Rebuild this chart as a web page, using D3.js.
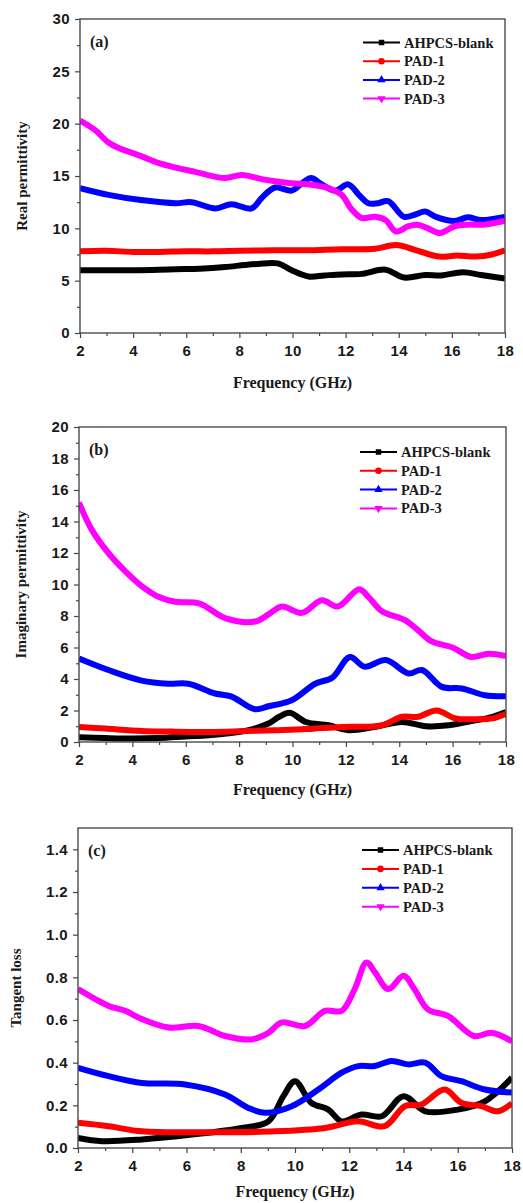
<!doctype html>
<html>
  <head>
    <script src="https://cdnjs.cloudflare.com/ajax/libs/d3/7.8.5/d3.min.js"></script>
    <style>
      body { margin: 0; background: #fff; }
      svg { display: block; }
      .tick text {
        font-family: "Liberation Sans", Arial, sans-serif;
        font-weight: bold;
        font-size: 15px;
        letter-spacing: 0.4px;
        fill: #1a1a1a;
      }
      .tick line { stroke: #444; stroke-width: 1.2px; }
      .domain { stroke: none; }
      .serif {
        font-family: "Liberation Serif", "Times New Roman", serif;
        font-weight: bold;
        fill: #1a1a1a;
      }
    </style>
  </head>
  <body>
    <svg width="523" height="1203"></svg>
    <script>
      // series names / colours
      var seriesNames = ["AHPCS-blank", "PAD-1", "PAD-2", "PAD-3"];
      var seriesColors = ["#000000", "#ff0000", "#0000ff", "#ff00ff"];

      // ticks
      var freqTicks = [2, 4, 6, 8, 10, 12, 14, 16, 18];
      var freqMinor = [3, 5, 7, 9, 11, 13, 15, 17];
      var realTicks = [0, 5, 10, 15, 20, 25, 30];
      var realMinor = [2.5, 7.5, 12.5, 17.5, 22.5, 27.5];
      var imagTicks = [0, 2, 4, 6, 8, 10, 12, 14, 16, 18, 20];
      var imagMinor = [1, 3, 5, 7, 9, 11, 13, 15, 17, 19];
      var tanTicks = [0, 0.2, 0.4, 0.6, 0.8, 1.0, 1.2, 1.4];
      var tanMinor = [0.1, 0.3, 0.5, 0.7, 0.9, 1.1, 1.3];

      // (a) real permittivity  [GHz, value]
      var realBlank = [[2,6.0],[3,6.0],[4,6.0],[5,6.05],[5.6,6.1],[6.5,6.15],[7.46,6.3],[8.2,6.5],[8.7,6.6],[9.45,6.65],[9.97,6.0],[10.6,5.4],[11.2,5.5],[11.85,5.6],[12.6,5.65],[13.5,6.05],[14.2,5.3],[15,5.55],[15.6,5.5],[16.4,5.8],[17.1,5.55],[18,5.2]];
      var realPad1 = [[2,7.8],[3,7.85],[4,7.75],[5,7.75],[6,7.8],[7,7.8],[8,7.85],[9.3,7.9],[10.5,7.9],[11.85,8.0],[13.1,8.05],[13.9,8.4],[14.6,7.95],[15.5,7.3],[16.2,7.4],[16.9,7.3],[17.5,7.5],[18,7.9]];
      var realPad2 = [[2,13.85],[3.07,13.2],[4.3,12.7],[5.6,12.4],[6.2,12.5],[7.1,11.9],[7.7,12.3],[8.46,11.9],[8.84,12.9],[9.34,13.9],[9.97,13.6],[10.3,14.2],[10.7,14.8],[11.1,14.2],[11.6,13.6],[12.1,14.2],[12.5,13.2],[12.85,12.4],[13.2,12.4],[13.6,12.6],[14.2,11.1],[14.6,11.3],[15.0,11.6],[15.4,11.1],[16.1,10.7],[16.6,11.05],[17.1,10.8],[18,11.1]];
      var realPad3 = [[2,20.3],[2.56,19.4],[3.07,18.2],[3.44,17.7],[4.3,16.9],[4.95,16.25],[5.6,15.8],[6.33,15.4],[7.46,14.8],[8.09,15.1],[8.84,14.7],[9.34,14.5],[9.97,14.3],[10.6,14.2],[11.35,13.85],[11.85,13.2],[12.2,11.9],[12.6,11.0],[13.1,11.1],[13.5,10.8],[13.9,9.7],[14.36,10.2],[14.7,10.35],[15.1,10.0],[15.55,9.55],[16.1,10.2],[16.6,10.35],[17.2,10.35],[18,10.7]];

      // (b) imaginary permittivity
      var imagBlank = [[2,0.3],[3,0.25],[4,0.22],[5,0.25],[6,0.35],[6.85,0.43],[7.6,0.55],[8.35,0.75],[9.1,1.17],[9.5,1.6],[9.9,1.85],[10.5,1.27],[11.35,1.06],[12.1,0.75],[13.1,0.96],[14.1,1.27],[15,1.0],[15.85,1.06],[16.85,1.37],[17.5,1.6],[18,1.9]];
      var imagPad1 = [[2,0.96],[3,0.85],[4.35,0.7],[5.5,0.66],[6.85,0.64],[8,0.68],[9.35,0.75],[10.5,0.82],[11.85,0.96],[13.35,1.06],[14.1,1.6],[14.7,1.6],[15.4,2.0],[16.1,1.5],[16.85,1.45],[17.5,1.5],[18,1.8]];
      var imagPad2 = [[2,5.3],[3.1,4.57],[4.35,3.9],[5.35,3.7],[6.1,3.7],[7.1,3.08],[7.7,2.9],[8.6,2.08],[9.1,2.27],[9.97,2.65],[10.85,3.7],[11.5,4.1],[12.15,5.4],[12.7,4.78],[13.5,5.2],[14.35,4.35],[14.85,4.57],[15.6,3.5],[16.35,3.4],[17.2,2.97],[18,2.9]];
      var imagPad3 = [[2,15.2],[2.47,13.5],[3.1,12.0],[3.7,10.9],[4.35,9.9],[5,9.2],[5.6,8.9],[6.5,8.8],[7.5,7.85],[8.6,7.65],[9.1,8.1],[9.6,8.6],[10.35,8.2],[11.1,9.0],[11.7,8.6],[12.5,9.7],[12.85,9.2],[13.35,8.3],[14.2,7.75],[14.7,7.1],[15.2,6.4],[16,6.0],[16.7,5.4],[17.35,5.6],[18,5.45]];

      // (c) tangent loss
      var tanBlank = [[2,0.047],[2.88,0.032],[4.36,0.04],[6.2,0.063],[8.04,0.094],[9.02,0.125],[9.57,0.243],[10,0.313],[10.6,0.212],[11.23,0.18],[11.72,0.125],[12.45,0.157],[13.2,0.149],[14,0.243],[14.8,0.172],[16,0.18],[17,0.219],[18,0.33]];
      var tanPad1 = [[2,0.118],[3.13,0.102],[4.36,0.078],[6.8,0.074],[9.26,0.078],[11.1,0.094],[12.33,0.125],[13.3,0.102],[14.05,0.196],[14.66,0.204],[15.52,0.274],[16.13,0.212],[16.87,0.196],[17.48,0.172],[18,0.21]];
      var tanPad2 = [[2,0.376],[3.13,0.337],[4.36,0.305],[5.95,0.298],[7.42,0.251],[8.28,0.188],[8.9,0.165],[9.88,0.196],[10.86,0.274],[11.72,0.353],[12.33,0.384],[12.94,0.384],[13.56,0.408],[14.17,0.392],[14.8,0.4],[15.4,0.337],[16.13,0.313],[17,0.274],[18,0.26]];
      var tanPad3 = [[2,0.745],[3.13,0.666],[3.74,0.643],[4.36,0.604],[5.34,0.565],[6.44,0.572],[7.42,0.525],[8.4,0.509],[9.02,0.54],[9.5,0.588],[10.37,0.572],[11.1,0.643],[11.72,0.643],[12.2,0.745],[12.64,0.87],[12.95,0.823],[13.44,0.745],[14,0.807],[14.4,0.745],[14.9,0.65],[15.64,0.619],[16.6,0.525],[17.24,0.54],[18,0.5]];

      var panels = [
        { tag: "(a)", title: "Real permittivity", series: [realBlank, realPad1, realPad2, realPad3],
          yMax: 30, ticks: realTicks, minor: realMinor, fmt: "d",
          left: 80, right: 505, top: 19, bottom: 333, titleX: 22, xLabelY: 388,
          legX: 363, legY: 42.5, legStep: 18.7 },
        { tag: "(b)", title: "Imaginary permittivity", series: [imagBlank, imagPad1, imagPad2, imagPad3],
          yMax: 20, ticks: imagTicks, minor: imagMinor, fmt: "d",
          left: 79, right: 506, top: 427, bottom: 742, titleX: 21, xLabelY: 795,
          legX: 360, legY: 452, legStep: 18.8 },
        { tag: "(c)", title: "Tangent loss", series: [tanBlank, tanPad1, tanPad2, tanPad3],
          yMax: 1.5, ticks: tanTicks, minor: tanMinor, fmt: ".1f",
          left: 78, right: 512, top: 828, bottom: 1148, titleX: 16, xLabelY: 1197,
          legX: 362, legY: 850, legStep: 18.9 }
      ];

      var svg = d3.select("svg");
      var symbols = [d3.symbolSquare, d3.symbolCircle, d3.symbolTriangle, d3.symbolTriangle];

      panels.forEach((p, pi) => {
        var x = d3.scaleLinear().domain([2, 18]).range([p.left, p.right]);
        var y = d3.scaleLinear().domain([0, p.yMax]).range([p.bottom, p.top]);
        var g = svg.append("g");

        g.append("clipPath").attr("id", "clip" + pi)
          .append("rect")
            .attr("x", p.left).attr("y", p.top)
            .attr("width", p.right - p.left).attr("height", p.bottom - p.top);

        var line = d3.line()
          .x(d => x(d[0]))
          .y(d => y(d[1]))
          .curve(d3.curveCatmullRom.alpha(0.5));

        g.append("g").attr("clip-path", `url(#clip${pi})`)
          .selectAll("path")
          .data(p.series)
          .enter()
          .append("path")
            .attr("d", line)
            .attr("fill", "none")
            .attr("stroke", (d, i) => seriesColors[i])
            .attr("stroke-width", 6)
            .attr("stroke-linejoin", "round");

        // axes: major + minor ticks
        g.append("g")
          .attr("transform", `translate(0,${p.bottom})`)
          .call(d3.axisBottom(x).tickValues(freqTicks).tickSize(5).tickPadding(7).tickFormat(d3.format("d")));
        g.append("g")
          .attr("transform", `translate(0,${p.bottom})`)
          .call(d3.axisBottom(x).tickValues(freqMinor).tickSize(3).tickFormat(""));
        g.append("g")
          .attr("transform", `translate(${p.left},0)`)
          .call(d3.axisLeft(y).tickValues(p.ticks).tickSize(5).tickPadding(5).tickFormat(d3.format(p.fmt)));
        g.append("g")
          .attr("transform", `translate(${p.left},0)`)
          .call(d3.axisLeft(y).tickValues(p.minor).tickSize(3).tickFormat(""));

        // frame
        g.append("rect")
          .attr("x", p.left).attr("y", p.top)
          .attr("width", p.right - p.left).attr("height", p.bottom - p.top)
          .attr("fill", "none")
          .attr("stroke", "#4a4a4a")
          .attr("stroke-width", 1.4);

        g.append("text").attr("class", "serif")
          .attr("x", p.left + 10).attr("y", p.top + 28)
          .style("font-size", "16px")
          .text(p.tag);

        g.append("text").attr("class", "serif")
          .attr("transform", `translate(${p.titleX},${(p.top + p.bottom) / 2}) rotate(-90)`)
          .attr("text-anchor", "middle")
          .attr("dy", "0.35em")
          .style("font-size", "15px")
          .text(p.title);

        g.append("text").attr("class", "serif")
          .attr("x", (p.left + p.right) / 2).attr("y", p.xLabelY)
          .attr("text-anchor", "middle")
          .style("font-size", "16px")
          .text("Frequency (GHz)");

        // legend
        var leg = g.selectAll("g.leg")
          .data(seriesNames)
          .enter()
          .append("g")
            .attr("class", "leg")
            .attr("transform", (d, i) => `translate(${p.legX},${p.legY + i * p.legStep})`);

        leg.append("line")
          .attr("x1", 0).attr("x2", 37)
          .attr("stroke", (d, i) => seriesColors[i])
          .attr("stroke-width", 2);

        leg.append("path")
          .attr("d", (d, i) => d3.symbol().type(symbols[i]).size(i === 1 ? 34 : 30)())
          .attr("transform", (d, i) => `translate(18.5,0)` + (i === 3 ? " rotate(180)" : ""))
          .attr("fill", (d, i) => seriesColors[i]);

        leg.append("text").attr("class", "serif")
          .attr("x", 41).attr("dy", "0.35em")
          .style("font-size", "14.5px")
          .text(d => d);
      });
    </script>
  </body>
</html>
